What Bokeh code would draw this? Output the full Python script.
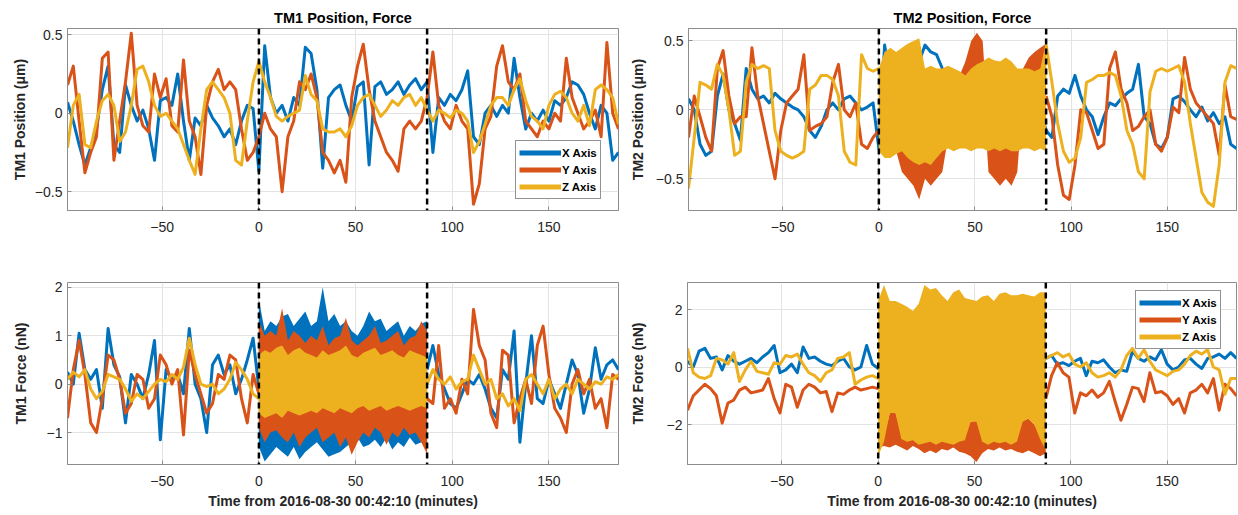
import numpy as np
from bokeh.plotting import figure
from bokeh.layouts import column, row
from bokeh.models import Range1d, FixedTicker, Span, Legend, LegendItem
from bokeh.embed import file_html
from bokeh.resources import INLINE

BLUE, ORANGE, YELLOW = "#0072BD", "#D95319", "#EDB120"
FRAME = "#8c8c8c"
TEXT = "#262626"
FONT = "Liberation Sans"

AXIS_NAMES = ["X Axis", "Y Axis", "Z Axis"]
COLORS = [BLUE, ORANGE, YELLOW]

# minutes from 2016-08-30 00:42:10, sampled every 3 minutes
t_all = np.arange(-99, 187, 3)    # whole record
t_pre = np.arange(-99, 1, 3)      # before the drive window
t_drv = np.arange(0, 88, 3)       # drive window
t_post = np.arange(87, 187, 3)    # after the drive window
drive_window = [0, 87]

x_ticks = [-50, 0, 50, 100, 150]

# ---------------- TM1 position (um) ----------------
tm1_pos_x = [0.07, -0.05, -0.2, -0.33, -0.22, -0.1, 0.15, 0.3, -0.2, -0.25, 0.18, 0.05,
             -0.05, 0.02, -0.1, -0.3, 0.08, 0.1, 0.05, 0.25, -0.05, -0.3, -0.03, -0.08,
             0.05, -0.03, -0.08, -0.15, -0.1, -0.2, -0.05, 0.05, 0.03, -0.37, 0.43, 0.1,
             0.0, 0.05, -0.05, 0.1, 0.05, 0.42, 0.38, 0.15, -0.35, 0.1, 0.15, 0.18,
             0.05, -0.05, 0.17, 0.2, -0.33, 0.17, 0.2, 0.12, 0.15, 0.2, 0.12, 0.18,
             0.22, 0.15, 0.2, -0.25, 0.1, 0.05, 0.12, 0.08, 0.15, 0.27, -0.15, -0.2,
             0.0, 0.05, -0.02, 0.05, 0.0, 0.35, 0.1, -0.1, 0.0, -0.05, 0.02, -0.05,
             0.08, 0.05, 0.1, 0.2, 0.18, 0.12, 0.0, -0.1, 0.05, 0.0, -0.3, -0.25]
tm1_pos_y = [0.18, 0.3, -0.05, -0.38, -0.25, -0.15, 0.35, 0.39, -0.3, -0.05, 0.2, 0.51,
             0.05, -0.08, -0.12, 0.25, 0.1, 0.22, -0.08, -0.12, 0.34, -0.05, -0.15, -0.39,
             0.05, 0.2, 0.28, 0.15, 0.2, 0.15, -0.1, -0.3, -0.25, -0.15, 0.0, -0.1,
             -0.15, -0.5, -0.15, -0.05, 0.2, 0.15, 0.25, 0.1, -0.25, -0.3, -0.38, -0.3,
             -0.44, 0.1, 0.3, 0.44, 0.15, -0.05, -0.15, -0.25, -0.3, -0.37, -0.1, -0.05,
             -0.1, -0.05, 0.1, 0.39, 0.05, -0.05, -0.1, 0.05, -0.05, -0.1, -0.58, -0.45,
             -0.1, -0.02, 0.3, 0.43, 0.2, 0.15, 0.25, -0.05, -0.1, -0.15, -0.05, -0.1,
             0.0, -0.05, 0.35, 0.1, 0.0, -0.1, -0.05, 0.02, -0.15, 0.45, 0.0, -0.1]
tm1_pos_z = [-0.22, 0.05, 0.12, -0.2, -0.22, -0.05, 0.08, 0.12, 0.05, -0.18, -0.12, 0.05,
             0.28, 0.3, 0.2, 0.05, -0.02, 0.0, -0.05, -0.1, -0.2, -0.3, -0.39, -0.1,
             0.15, 0.2, 0.15, 0.1, 0.0, -0.3, -0.33, -0.05, 0.2, 0.33, 0.2, 0.1,
             -0.02, -0.05, -0.02, 0.0, 0.02, 0.24, 0.12, 0.08, -0.1, -0.12, -0.12, -0.1,
             -0.15, -0.08, 0.05, 0.1, 0.12, 0.05, -0.02, 0.02, 0.08, 0.05, 0.1, 0.12,
             0.05, 0.1, 0.02, -0.05, 0.02, 0.0, -0.03, 0.02, 0.0, -0.05, -0.25, -0.18,
             -0.07, 0.05, 0.1, 0.1, 0.05, 0.15, 0.22, 0.08, -0.02, -0.05, -0.1, 0.05,
             0.12, 0.14, 0.1, 0.0, -0.05, 0.05, -0.08, 0.15, 0.18, 0.15, 0.1, -0.07]

# ---------------- TM2 position (um) ----------------
tm2_pos_x = [0.08, 0.0, -0.25, -0.33, -0.3, 0.1, 0.26, 0.0, -0.1, -0.22, 0.3, 0.15,
             0.08, 0.1, 0.05, 0.12, 0.08, 0.05, 0.02, 0.0, -0.05, -0.15, -0.2, -0.12,
             0.0, 0.05, 0.0, 0.08, 0.1, 0.05, 0.0, 0.02, 0.05, -0.28, 0.47, 0.2,
             0.15, 0.2, 0.1, 0.25, 0.35, 0.47, 0.42, 0.4, 0.3, 0.05, 0.1, 0.0,
             0.05, 0.1, 0.05, 0.1, 0.0, 0.05, 0.1, 0.0, 0.05, 0.1, 0.05, 0.1,
             0.05, 0.0, -0.15, -0.2, 0.1, 0.15, 0.12, 0.25, 0.1, 0.0, -0.05, -0.18,
             -0.05, 0.05, 0.03, 0.08, 0.12, 0.15, 0.33, -0.05, -0.1, -0.25, -0.28, -0.2,
             0.08, 0.1, 0.06, 0.0, -0.05, 0.02, -0.08, -0.02, -0.1, -0.05, -0.25, -0.28]
tm2_pos_y_pre = [-0.2, 0.1, -0.05, -0.2, -0.3, 0.3, 0.43, 0.1, -0.1, -0.05, -0.05, 0.45,
                 0.1, -0.1, -0.3, -0.5, -0.15, 0.05, 0.1, 0.15, 0.4, -0.15, -0.12, -0.1,
                 -0.05, 0.2, 0.33, 0.0, -0.05, 0.05, -0.25, -0.28, -0.2, -0.15]
tm2_pos_y_post = [0.1, -0.05, -0.4, -0.62, -0.65, -0.4, 0.0, -0.02, -0.15, -0.28, -0.25, 0.3,
                  0.42, 0.15, 0.05, -0.15, -0.12, -0.05, 0.0, -0.25, -0.3, -0.2, 0.02, -0.02,
                  0.38, 0.15, 0.05, 0.0, -0.05, -0.1, -0.33, 0.18, -0.05, -0.07]
tm2_pos_y_lo = [-0.15, -0.1, -0.15, -0.3, -0.45, -0.5, -0.55, -0.65, -0.5, -0.55,
                -0.5, -0.45, -0.2, -0.05, 0.0, 0.1, 0.2, 0.25, 0.2, -0.45,
                -0.5, -0.55, -0.5, -0.55, -0.45, 0.1, 0.15, 0.15, 0.2, 0.2]
tm2_pos_y_hi = [0.0, 0.05, 0.0, -0.05, -0.2, -0.25, -0.25, -0.3, -0.25, -0.3,
                -0.3, -0.2, 0.05, 0.15, 0.25, 0.35, 0.5, 0.56, 0.5, -0.15,
                -0.2, -0.25, -0.25, -0.25, -0.15, 0.3, 0.38, 0.42, 0.45, 0.48]
tm2_pos_z_pre = [-0.57, -0.2, 0.2, 0.18, 0.15, 0.33, 0.25, 0.0, -0.33, -0.3, 0.2, 0.33,
                 0.3, 0.32, 0.3, -0.15, -0.3, -0.33, -0.35, -0.33, -0.3, 0.15, 0.18, 0.25,
                 0.25, 0.22, 0.1, -0.3, -0.38, -0.4, 0.4, 0.3, 0.28, 0.3]
tm2_pos_z_post = [0.47, 0.2, -0.1, -0.3, -0.38, -0.35, -0.2, 0.2, 0.22, 0.25, 0.25, 0.27,
                  0.25, 0.1, -0.15, -0.25, -0.45, -0.5, 0.13, 0.28, 0.3, 0.28, 0.3, 0.32,
                  0.2, -0.1, -0.35, -0.6, -0.67, -0.7, -0.4, 0.2, 0.32, 0.3]
tm2_pos_z_lo = [-0.3, -0.35, -0.35, -0.32, -0.3, -0.35, -0.38, -0.4, -0.38, -0.4,
                -0.35, -0.3, -0.28, -0.3, -0.28, -0.28, -0.3, -0.28, -0.28, -0.3,
                -0.28, -0.3, -0.28, -0.3, -0.3, -0.28, -0.28, -0.3, -0.28, -0.3]
tm2_pos_z_hi = [0.3, 0.42, 0.45, 0.42, 0.45, 0.48, 0.5, 0.52, 0.3, 0.32,
                0.3, 0.3, 0.32, 0.3, 0.28, 0.25, 0.3, 0.33, 0.35, 0.38,
                0.36, 0.35, 0.38, 0.35, 0.3, 0.3, 0.3, 0.28, 0.3, 0.5]

# ---------------- TM1 force (nN) ----------------
tm1_f_x_pre = [0.25, 0.0, 1.05, 0.3, 0.1, 0.3, -0.5, 1.15, 0.4, 0.15, -0.8, 0.2,
               0.0, -0.3, 0.2, 0.9, -1.15, 0.3, 0.1, 0.2, -0.2, 1.15, 0.0, -0.3,
               -1.0, 0.4, 0.6, 0.2, 0.4, -0.2, 0.1, 0.5, 0.95, -0.1]
tm1_f_x_post = [0.3, 0.8, 0.2, -0.1, -0.4, -0.5, -0.2, 0.1, 0.0, 0.2, -0.1, -0.5,
                -0.7, 0.3, 0.1, 1.1, -1.2, 0.0, 1.0, -0.3, -0.4, 0.1, -0.2, -0.5,
                0.0, 0.5, 0.2, -0.6, -0.1, 0.75, 0.1, 0.4, 0.5, 0.3]
tm1_f_x_lo = [-1.3, -1.6, -1.45, -1.3, -1.4, -1.5, -1.3, -1.55, -1.4, -1.3,
              -1.2, -1.35, -1.5, -1.45, -1.4, -1.3, -1.2, -1.1, -1.3, -1.25,
              -1.15, -1.3, -1.1, -1.35, -1.2, -1.3, -1.1, -1.25, -1.2, -1.3]
tm1_f_x_hi = [1.75, 1.1, 1.3, 1.2, 1.4, 1.45, 1.2, 1.35, 1.5, 1.2,
              1.3, 2.0, 1.3, 1.45, 1.2, 1.3, 1.1, 1.0, 1.2, 1.5,
              1.3, 1.35, 1.1, 1.2, 1.3, 1.0, 1.2, 1.1, 1.25, 1.3]
tm1_f_y_pre = [-0.7, 0.3, 0.9, 0.2, -0.8, -1.0, -0.3, 0.6, 0.5, 0.1, -0.6, -0.4,
               0.2, 0.1, -0.5, -0.3, 0.6, 0.4, 0.0, 0.3, -1.05, 0.7, 0.2, -0.2,
               -0.6, -0.4, 0.2, 0.1, 0.6, 0.5, -0.3, -0.8, 0.2, -0.2]
tm1_f_y_post = [-0.3, -0.4, 0.8, -0.5, -0.3, -0.6, 0.1, -0.2, 1.54, 0.8, 0.5, -0.6,
                -0.9, 0.7, 0.6, -0.8, -0.3, 0.1, -0.4, 0.8, 1.2, 0.2, -0.5, -0.7,
                -1.0, 0.0, 0.3, -0.2, 0.1, -0.5, -0.3, -0.9, 0.2, 0.1]
tm1_f_y_lo = [-0.9, -1.2, -1.0, -0.95, -1.1, -1.2, -1.0, -1.3, -1.1, -1.0,
              -0.9, -1.2, -1.1, -1.0, -1.3, -1.1, -1.46, -1.2, -1.0, -1.1,
              -0.9, -1.0, -1.25, -1.0, -1.1, -0.9, -1.05, -1.0, -1.2, -1.45]
tm1_f_y_hi = [1.3, 1.0, 1.1, 1.0, 1.57, 0.9, 1.1, 1.0, 0.85, 1.0,
              0.9, 1.2, 0.8, 0.95, 1.0, 1.37, 0.9, 0.8, 0.9, 1.0,
              1.2, 0.85, 0.9, 1.0, 1.1, 0.8, 0.95, 1.0, 1.3, 1.1]
tm1_f_z_pre = [0.1, 0.25, 0.15, 0.3, -0.1, -0.3, -0.15, 0.2, 0.15, 0.1, -0.1, -0.35,
               -0.2, -0.3, -0.15, 0.0, 0.1, 0.05, 0.2, 0.1, 0.35, 0.95, 0.4, 0.0,
               -0.05, 0.0, -0.2, -0.1, 0.1, 0.45, 0.3, 0.1, -0.2, -0.3]
tm1_f_z_post = [0.0, 0.3, 0.1, 0.0, 0.15, -0.1, 0.05, 0.1, 0.6, 0.3, 0.0, 0.1,
                -0.3, -0.2, -0.45, -0.3, -0.55, 0.1, 0.2, 0.0, -0.2, 0.1, -0.3, -0.1,
                0.0, -0.2, 0.1, 0.0, -0.1, 0.05, 0.0, 0.15, 0.1, 0.2]
tm1_f_z_lo = [-0.6, -0.7, -0.65, -0.6, -0.7, -0.55, -0.6, -0.65, -0.6, -0.55,
              -0.6, -0.5, -0.55, -0.6, -0.5, -0.55, -0.6, -0.5, -0.45, -0.55,
              -0.5, -0.45, -0.55, -0.5, -0.45, -0.5, -0.55, -0.5, -0.45, -0.5]
tm1_f_z_hi = [0.6, 0.7, 0.65, 0.75, 0.8, 0.6, 0.7, 0.75, 0.65, 0.6,
              0.55, 0.7, 0.6, 0.65, 0.7, 0.8, 0.6, 0.55, 0.65, 0.7,
              0.75, 0.6, 0.65, 0.7, 0.6, 0.55, 0.7, 0.65, 0.6, 0.55]

# ---------------- TM2 force (nN) ----------------
tm2_f_x = [0.2, 0.0, 0.55, 0.65, 0.3, 0.35, -0.1, 0.4, 0.2, 0.1, 0.2, 0.3,
           0.15, 0.35, 0.5, 0.75, -0.2, -0.1, 0.1, -0.2, 0.7, 0.3, 0.35, 0.2,
           0.1, 0.05, 0.2, 0.3, 0.0, -0.1, 0.0, 0.75, 0.1, -0.05, 0.1, 0.2,
           0.0, 0.1, 0.2, 0.1, 0.0, 0.15, 0.2, 0.1, 0.05, 0.1, 0.2, 0.1,
           0.0, 0.1, 0.15, 0.1, 0.05, 0.2, 0.1, 0.0, 0.1, 0.2, 0.1, 0.0,
           0.1, 0.15, 0.3, 0.4, 0.1, 0.15, 0.05, 0.2, 0.3, -0.3, 0.2, 0.15,
           0.25, 0.0, -0.2, -0.1, -0.15, 0.55, 0.3, 0.2, 0.35, 0.25, 0.6, 0.1,
           -0.1, 0.0, 0.25, 0.3, 0.1, -0.05, 0.3, 0.35, 0.45, 0.3, 0.5, 0.3]
tm2_f_y_pre = [-1.5, -1.0, -0.8, -0.6, -0.75, -1.0, -1.95, -1.25, -1.15, -0.8, -0.7, -0.9,
               -0.85, -0.8, -0.4, -1.1, -1.6, -0.6, -0.7, -1.4, -0.8, -0.6, -0.7, -0.9,
               -0.85, -1.55, -0.9, -0.95, -0.8, -0.7, -0.8, -0.75, -0.7, -0.75]
tm2_f_y_post = [-1.1, -0.3, 0.15, -0.2, -0.35, -1.6, -0.9, -1.0, -0.8, -1.05, -0.9, -0.5,
                -1.2, -1.85, -1.3, -0.7, -0.75, -1.2, -0.2, -0.9, -0.85, -1.0, -1.3, -1.1,
                -1.6, -0.9, -0.8, -0.6, -0.9, -0.4, -1.5, -0.6, -0.75, -1.0]
tm2_f_y_lo = [-2.8, -2.75, -2.8, -2.7, -2.8, -2.9, -2.75, -2.85, -3.0, -2.9,
              -3.0, -2.85, -2.9, -2.8, -2.95, -3.0, -3.1, -3.3, -3.0, -2.85,
              -2.9, -2.8, -2.9, -2.85, -2.95, -3.0, -2.9, -3.0, -3.1, -3.0]
tm2_f_y_hi = [-2.2, -2.4, -1.6, -1.6, -2.3, -2.4, -2.4, -2.5, -2.5, -2.4,
              -2.5, -2.5, -2.5, -2.4, -2.3, -2.2, -1.9, -1.85, -2.4, -2.5,
              -2.5, -2.5, -2.4, -2.5, -2.4, -1.85, -1.8, -2.0, -2.3, -2.3]
tm2_f_z_pre = [0.65, -0.2, -0.35, -0.4, -0.3, 0.3, 0.25, 0.1, 0.5, -0.5, -0.1, 0.2,
               -0.15, -0.2, -0.25, 0.15, 0.1, 0.4, 0.35, 0.45, 0.1, -0.2, -0.3, -0.5,
               -0.2, -0.1, 0.3, 0.35, 0.5, -0.6, -0.45, -0.35, -0.3, -0.4]
tm2_f_z_post = [0.3, 0.4, 0.5, 0.35, 0.45, 0.1, 0.0, 0.15, -0.2, -0.35, -0.3, -0.2,
                -0.35, -0.1, 0.4, 0.65, 0.3, 0.6, 0.2, -0.1, -0.2, -0.3, -0.15, -0.1,
                0.1, 0.4, 0.55, 0.45, 0.6, 0.0, -0.1, -0.95, -0.4, -0.4]
tm2_f_z_lo = [-3.1, -2.6, -1.6, -1.6, -2.5, -2.6, -2.55, -2.7, -2.65, -2.6,
              -2.7, -2.6, -2.65, -2.7, -2.6, -2.55, -1.9, -1.9, -2.6, -2.7,
              -2.6, -2.65, -2.6, -2.7, -2.6, -1.9, -1.8, -2.0, -2.5, -2.9]
tm2_f_z_hi = [2.3, 2.85, 2.3, 2.3, 2.2, 2.1, 1.95, 2.2, 2.85, 2.7,
              2.75, 2.5, 2.3, 2.6, 2.7, 2.4, 2.35, 2.3, 2.45, 2.5,
              2.3, 2.55, 2.6, 2.5, 2.5, 2.55, 2.5, 2.45, 2.6, 2.6]

LW = 3.0


def style_axis(ax, ticks, standoff=5):
    ax.ticker = FixedTicker(ticks=ticks)
    ax.axis_line_color = FRAME
    ax.major_tick_line_color = FRAME
    ax.major_tick_in = 4
    ax.major_tick_out = 0
    ax.minor_tick_line_color = None
    ax.major_label_text_font = FONT
    ax.major_label_text_font_size = "14px"
    ax.major_label_text_color = TEXT
    ax.major_label_standoff = standoff
    ax.axis_label_text_font = FONT
    ax.axis_label_text_font_size = "14px"
    ax.axis_label_text_font_style = "bold"
    ax.axis_label_text_color = TEXT


def make_panel(width, height, border, ylim, yticks, ylabel, ylabel_standoff,
               title=None, xlabel=None):
    left, right, top, bottom = border
    p = figure(width=width, height=height, output_backend="svg", toolbar_location=None,
               tools="", x_range=Range1d(-99, 186), y_range=Range1d(*ylim),
               min_border_left=left, min_border_right=right,
               min_border_top=top, min_border_bottom=bottom)
    p.background_fill_color = "white"
    p.border_fill_color = "white"
    p.outline_line_color = FRAME
    p.outline_line_width = 1
    style_axis(p.xaxis[0], x_ticks, standoff=11)
    style_axis(p.yaxis[0], yticks, standoff=5)
    p.yaxis[0].axis_label = ylabel
    p.yaxis[0].axis_label_standoff = ylabel_standoff
    if xlabel:
        p.xaxis[0].axis_label = xlabel
        p.xaxis[0].axis_label_standoff = 4
    p.xgrid.ticker = FixedTicker(ticks=x_ticks)
    p.ygrid.ticker = FixedTicker(ticks=yticks)
    p.grid.grid_line_color = "#e3e3e3"
    p.grid.grid_line_width = 1
    if title:
        p.title.text = title
        p.title.align = "center"
        p.title.text_font = FONT
        p.title.text_font_size = "14.5px"
        p.title.text_font_style = "bold"
        p.title.text_color = "#000000"
        p.title.standoff = 6
    return p


def add_line(p, t, y, color):
    return p.line(t, y, line_color=color, line_width=LW, line_join="round")


def add_band(p, t, lo, hi, color):
    p.varea(x=t, y1=lo, y2=hi, fill_color=color, fill_alpha=1.0)


def add_drive_markers(p):
    for loc in drive_window:
        p.add_layout(Span(location=loc, dimension="height", line_color="black",
                          line_width=2.5, line_dash="6 4"))


def add_legend(p, loc, first_points):
    # one-sample line renderers: nothing is drawn in the frame, but the
    # legend gets a thick line swatch in each series colour
    items = []
    for name, col, (t0, y0) in zip(AXIS_NAMES, COLORS, first_points):
        r = p.line([t0], [y0], line_color=col, line_width=5)
        items.append(LegendItem(label=name, renderers=[r]))
    leg = Legend(items=items, location=loc, orientation="vertical",
                 label_text_font=FONT, label_text_font_style="bold",
                 label_text_font_size="11.5px", label_text_color="#000000",
                 glyph_width=42, glyph_height=17, label_height=17, label_standoff=1,
                 spacing=0, padding=3, margin=0,
                 border_line_color="#262626", border_line_width=1,
                 background_fill_color="white", background_fill_alpha=1.0)
    p.add_layout(leg)


LEFT_W, RIGHT_W = 626, 612
TOP_H, BOT_H = 256, 259

# TM1 position
p1 = make_panel(LEFT_W, TOP_H, (67, 8, 28, 46), (-0.62, 0.54), [-0.5, 0, 0.5],
                "TM1 Position (μm)", 4, title="TM1 Position, Force")
add_line(p1, t_all, tm1_pos_x, BLUE)
add_line(p1, t_all, tm1_pos_y, ORANGE)
add_line(p1, t_all, tm1_pos_z, YELLOW)
add_drive_markers(p1)
add_legend(p1, (448, 11), [(t_all[0], tm1_pos_x[0]), (t_all[0], tm1_pos_y[0]),
                           (t_all[0], tm1_pos_z[0])])

# TM2 position
p2 = make_panel(RIGHT_W, TOP_H, (60, 2, 28, 46), (-0.73, 0.59), [-0.5, 0, 0.5],
                "TM2 Position (μm)", 7, title="TM2 Position, Force")
add_line(p2, t_all, tm2_pos_x, BLUE)
add_line(p2, t_pre, tm2_pos_y_pre, ORANGE)
add_band(p2, t_drv, tm2_pos_y_lo, tm2_pos_y_hi, ORANGE)
add_line(p2, t_post, tm2_pos_y_post, ORANGE)
add_line(p2, t_pre, tm2_pos_z_pre, YELLOW)
add_band(p2, t_drv, tm2_pos_z_lo, tm2_pos_z_hi, YELLOW)
add_line(p2, t_post, tm2_pos_z_post, YELLOW)
add_drive_markers(p2)

XLABEL = "Time from 2016-08-30 00:42:10 (minutes)"

# TM1 force
p3 = make_panel(LEFT_W, BOT_H, (67, 8, 26, 51), (-1.66, 2.1), [-1, 0, 1, 2],
                "TM1 Force (nN)", 15, xlabel=XLABEL)
for pre, lo, hi, post, col in ((tm1_f_x_pre, tm1_f_x_lo, tm1_f_x_hi, tm1_f_x_post, BLUE),
                               (tm1_f_y_pre, tm1_f_y_lo, tm1_f_y_hi, tm1_f_y_post, ORANGE),
                               (tm1_f_z_pre, tm1_f_z_lo, tm1_f_z_hi, tm1_f_z_post, YELLOW)):
    add_line(p3, t_pre, pre, col)
    add_band(p3, t_drv, lo, hi, col)
    add_line(p3, t_post, post, col)
add_drive_markers(p3)

# TM2 force
p4 = make_panel(RIGHT_W, BOT_H, (60, 2, 26, 51), (-3.39, 2.94), [-2, 0, 2],
                "TM2 Force (nN)", 18, xlabel=XLABEL)
add_line(p4, t_all, tm2_f_x, BLUE)
add_line(p4, t_pre, tm2_f_y_pre, ORANGE)
add_band(p4, t_drv, tm2_f_y_lo, tm2_f_y_hi, ORANGE)
add_line(p4, t_post, tm2_f_y_post, ORANGE)
add_line(p4, t_pre, tm2_f_z_pre, YELLOW)
add_band(p4, t_drv, tm2_f_z_lo, tm2_f_z_hi, YELLOW)
add_line(p4, t_post, tm2_f_z_post, YELLOW)
add_drive_markers(p4)
add_legend(p4, (448, 115), [(t_all[0], tm2_f_x[0]), (t_pre[0], tm2_f_y_pre[0]),
                            (t_pre[0], tm2_f_z_pre[0])])

layout = column(row(p1, p2), row(p3, p4))

with open("out.html", "w") as f:
    f.write(file_html(layout, INLINE))
